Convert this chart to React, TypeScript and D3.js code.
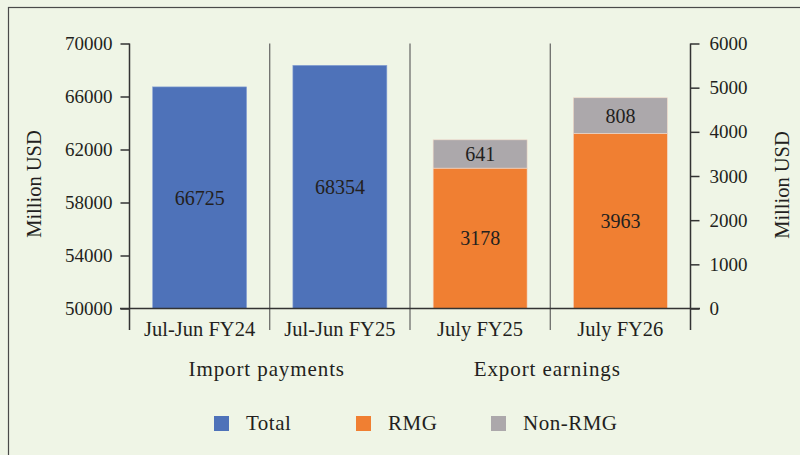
import { useRef, useEffect } from "react";
import * as d3 from "d3";

const categories = ["Jul-Jun FY24", "Jul-Jun FY25", "July FY25", "July FY26"];
const importTotal = [66725, 68354];
const rmgValues = [3178, 3963];
const nonRmgValues = [641, 808];
const leftTicks = [50000, 54000, 58000, 62000, 66000, 70000];
const rightTicks = [0, 1000, 2000, 3000, 4000, 5000, 6000];
const groupLabels = ["Import payments", "Export earnings"];
const legendLabels = ["Total", "RMG", "Non-RMG"];

const BG = "#eff5e6";
const TEXT = "#231f20";
const BLUE = "#4e72b9";
const ORANGE = "#f07f32";
const GREY = "#aca8ab";
const FONT = "'Liberation Serif', 'DejaVu Serif', serif";

export default function App() {
  const svgRef = useRef<SVGSVGElement>(null);
  const width = 800;
  const height = 455;

  useEffect(() => {
    if (!svgRef.current) return;
    const svg = d3.select(svgRef.current);
    svg.selectAll("*").remove();

    const left = 129.5;
    const right = 690.5;
    const top = 43.5;
    const bottom = 308.5;

    svg.append("rect").attr("width", width).attr("height", height).attr("fill", BG);
    // outer frame (open to the right and bottom, as in the source)
    svg
      .append("rect")
      .attr("x", 8.5)
      .attr("y", 7.5)
      .attr("width", width)
      .attr("height", height)
      .attr("fill", "none")
      .attr("stroke", "#4a4a4a")
      .attr("stroke-width", 1.2);

    const x = d3
      .scaleBand<string>()
      .domain(categories)
      .range([left, right])
      .paddingInner(0.33)
      .paddingOuter(0.165);

    const yLeft = d3.scaleLinear().domain([50000, 70000]).range([bottom, top]);
    const yRight = d3.scaleLinear().domain([0, 6000]).range([bottom, top]);

    const g = svg.append("g").attr("font-family", FONT);

    // category separators
    const step = x.step();
    const boundaries = [left, ...categories.map((c) => (x(c) as number) + x.bandwidth() + (step * x.paddingInner()) / 2)];
    g.selectAll(".sep")
      .data(boundaries)
      .enter()
      .append("line")
      .attr("x1", (d) => d)
      .attr("x2", (d) => d)
      .attr("y1", top)
      .attr("y2", 330)
      .attr("stroke", (d, i) => (i === 0 || i === boundaries.length - 1 ? "#333" : "#555"))
      .attr("stroke-width", (d, i) => (i === 0 || i === boundaries.length - 1 ? 1.5 : 1.1));

    // import bars
    const importCats = categories.slice(0, 2);
    const importG = g.append("g");
    importG
      .selectAll("rect")
      .data(importTotal)
      .enter()
      .append("rect")
      .attr("x", (d, i) => x(importCats[i]) as number)
      .attr("y", (d) => yLeft(d))
      .attr("width", x.bandwidth())
      .attr("height", (d) => bottom - yLeft(d))
      .attr("fill", BLUE)
      .attr("stroke", "#8aa4d6")
      .attr("stroke-width", 0.6);
    importG
      .selectAll("text")
      .data(importTotal)
      .enter()
      .append("text")
      .attr("x", (d, i) => (x(importCats[i]) as number) + x.bandwidth() / 2)
      .attr("y", (d) => (yLeft(d) + bottom) / 2)
      .attr("dy", "0.35em")
      .attr("text-anchor", "middle")
      .attr("font-size", 20)
      .attr("fill", TEXT)
      .text((d) => String(d));

    // export stacked bars
    const exportCats = categories.slice(2);
    const exportData = exportCats.map((c, i) => ({ cat: c, rmg: rmgValues[i], non: nonRmgValues[i] }));
    const stack = d3.stack<{ cat: string; rmg: number; non: number }>().keys(["rmg", "non"]);
    const series = stack(exportData);
    const colors = [ORANGE, GREY];
    series.forEach((s, si) => {
      const sg = g.append("g");
      sg.selectAll("rect")
        .data(s)
        .enter()
        .append("rect")
        .attr("x", (d) => x(d.data.cat) as number)
        .attr("y", (d) => yRight(d[1]))
        .attr("width", x.bandwidth())
        .attr("height", (d) => yRight(d[0]) - yRight(d[1]))
        .attr("fill", colors[si])
        .attr("stroke", "#f3d9c8")
        .attr("stroke-width", 0.6);
      sg.selectAll("text")
        .data(s)
        .enter()
        .append("text")
        .attr("x", (d) => (x(d.data.cat) as number) + x.bandwidth() / 2)
        .attr("y", (d) => (yRight(d[0]) + yRight(d[1])) / 2)
        .attr("dy", "0.35em")
        .attr("text-anchor", "middle")
        .attr("font-size", 20)
        .attr("fill", TEXT)
        .text((d) => String(d[1] - d[0]));
    });

    // baseline
    g.append("line")
      .attr("x1", 120)
      .attr("x2", 700)
      .attr("y1", bottom)
      .attr("y2", bottom)
      .attr("stroke", "#333")
      .attr("stroke-width", 1.5);

    // left axis
    g.append("g")
      .attr("transform", `translate(${left},0)`)
      .call(d3.axisLeft(yLeft).tickValues(leftTicks).tickSize(9).tickSizeOuter(0).tickPadding(8).tickFormat((d) => String(d)))
      .call((a) => a.select(".domain").remove())
      .call((a) => a.selectAll(".tick line").attr("stroke", "#333").attr("stroke-width", 1.5))
      .call((a) =>
        a.selectAll("text").attr("fill", TEXT).attr("font-size", 19).attr("font-family", FONT)
      );

    // right axis
    g.append("g")
      .attr("transform", `translate(${right},0)`)
      .call(d3.axisRight(yRight).tickValues(rightTicks).tickSize(9).tickSizeOuter(0).tickPadding(10).tickFormat((d) => String(d)))
      .call((a) => a.select(".domain").remove())
      .call((a) => a.selectAll(".tick line").attr("stroke", "#333").attr("stroke-width", 1.5))
      .call((a) =>
        a.selectAll("text").attr("fill", TEXT).attr("font-size", 19).attr("font-family", FONT)
      );

    // category labels
    g.selectAll(".cat")
      .data(categories)
      .enter()
      .append("text")
      .attr("x", (d) => (x(d) as number) + x.bandwidth() / 2)
      .attr("y", 336)
      .attr("text-anchor", "middle")
      .attr("font-size", 20.5)
      .attr("fill", TEXT)
      .text((d) => d);

    // group labels
    const groupCenters = [
      (boundaries[0] + boundaries[2]) / 2,
      (boundaries[2] + boundaries[4]) / 2,
    ];
    g.selectAll(".grp")
      .data(groupLabels)
      .enter()
      .append("text")
      .attr("x", (d, i) => groupCenters[i] - 3)
      .attr("y", 376)
      .attr("text-anchor", "middle")
      .attr("font-size", 21)
      .attr("letter-spacing", 0.9)
      .attr("fill", TEXT)
      .text((d) => d);

    // axis titles
    g.append("text")
      .attr("transform", `translate(41,184) rotate(-90)`)
      .attr("text-anchor", "middle")
      .attr("font-size", 20.5)
      .attr("fill", TEXT)
      .text("Million USD");
    g.append("text")
      .attr("transform", `translate(789,185) rotate(-90)`)
      .attr("text-anchor", "middle")
      .attr("font-size", 20.5)
      .attr("fill", TEXT)
      .text("Million USD");

    // legend
    const legendX = [214, 356, 491];
    const legendColors = [BLUE, ORANGE, GREY];
    const lg = g.selectAll(".leg").data(legendLabels).enter().append("g")
      .attr("transform", (d, i) => `translate(${legendX[i]},416)`);
    lg.append("rect")
      .attr("width", 15)
      .attr("height", 15)
      .attr("fill", (d, i) => legendColors[i]);
    lg.append("text")
      .attr("x", 32)
      .attr("y", 14)
      .attr("font-size", 21)
      .attr("letter-spacing", 0.5)
      .attr("fill", TEXT)
      .text((d) => d);
  }, []);

  return (
    <svg
      ref={svgRef}
      width={width}
      height={height}
      style={{ position: "absolute", left: 0, top: 0, display: "block" }}
      role="img"
      aria-label="Import payments and export earnings bar chart"
    />
  );
}
